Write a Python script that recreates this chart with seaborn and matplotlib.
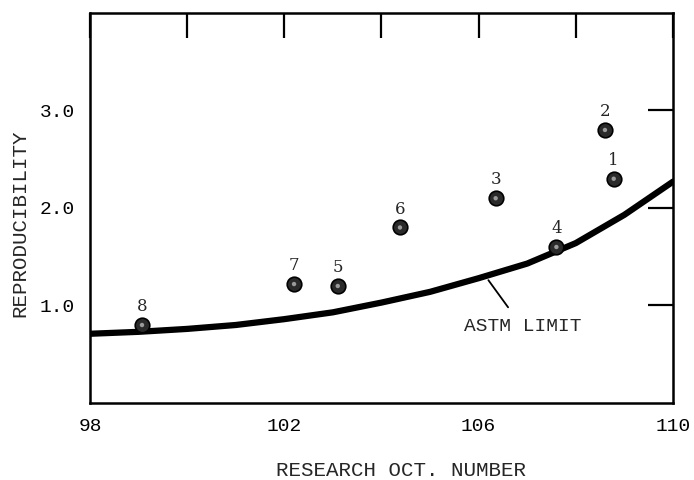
import pandas as pd
import seaborn as sns
import matplotlib.pyplot as plt

sns.set_style("white")
plt.rcParams['font.family'] = ['Liberation Mono', 'DejaVu Sans Mono']

# data
octane = [108.78, 108.6, 106.35, 107.6, 103.1, 104.38, 102.2, 99.07]
repro = [2.3, 2.8, 2.1, 1.6, 1.2, 1.8, 1.22, 0.8]
labels = ["1", "2", "3", "4", "5", "6", "7", "8"]

limit_x = [98, 99, 100, 101, 102, 103, 104, 105, 106, 107, 108, 109, 110]
limit_y = [0.71, 0.73, 0.76, 0.80, 0.86, 0.93, 1.03, 1.14, 1.28, 1.43, 1.64, 1.93, 2.27]

xticks = [98, 100, 102, 104, 106, 108, 110]
xticklabels = ["98", "", "102", "", "106", "", "110"]
yticks = [1, 2, 3]
yticklabels = ["1.0", "2.0", "3.0"]

pts = pd.DataFrame({"octane": octane, "repro": repro, "label": labels})
lim = pd.DataFrame({"x": limit_x, "y": limit_y})

fig = plt.figure(figsize=(6.94, 4.8), dpi=100)
ax = fig.add_axes([0.1297, 0.1604, 0.84, 0.8126])

sns.lineplot(data=lim, x="x", y="y", ax=ax, color="black", linewidth=4.5)
sns.scatterplot(data=pts, x="octane", y="repro", ax=ax, s=110,
                color="#2a2a2a", edgecolor="black", linewidth=1.2, zorder=3)
sns.scatterplot(data=pts, x="octane", y="repro", ax=ax, s=10,
                color="#9a9a9a", edgecolor="none", zorder=4)

for _, r in pts.iterrows():
    ax.text(r["octane"], r["repro"] + 0.1, r["label"], ha="center",
            va="bottom", fontsize=12, family="DejaVu Serif")

ax.annotate("ASTM LIMIT", xy=(106.2, 1.26), xytext=(106.9, 0.78),
            ha="center", va="center", fontsize=14,
            arrowprops=dict(arrowstyle="-", color="black", lw=1.3,
                            shrinkA=7, shrinkB=0))

ax.set_xlim(98, 110)
ax.set_ylim(0, 4)
ax.set_xticks(xticks)
ax.set_xticklabels(xticklabels)
ax.set_yticks(yticks)
ax.set_yticklabels(yticklabels)
ax.tick_params(direction="in", length=18, width=1.6, top=True, right=True,
               labelsize=14, pad=11, colors="black")
for s in ax.spines.values():
    s.set_linewidth(1.8)
    s.set_color("black")

ax.set_xlabel("RESEARCH OCT. NUMBER", fontsize=15, va="center")
ax.xaxis.set_label_coords(0.533, -0.172)
ax.set_ylabel("REPRODUCIBILITY", fontsize=15, va="center")
ax.yaxis.set_label_coords(-0.12, 0.46)

fig.savefig("out.png", dpi=100)
